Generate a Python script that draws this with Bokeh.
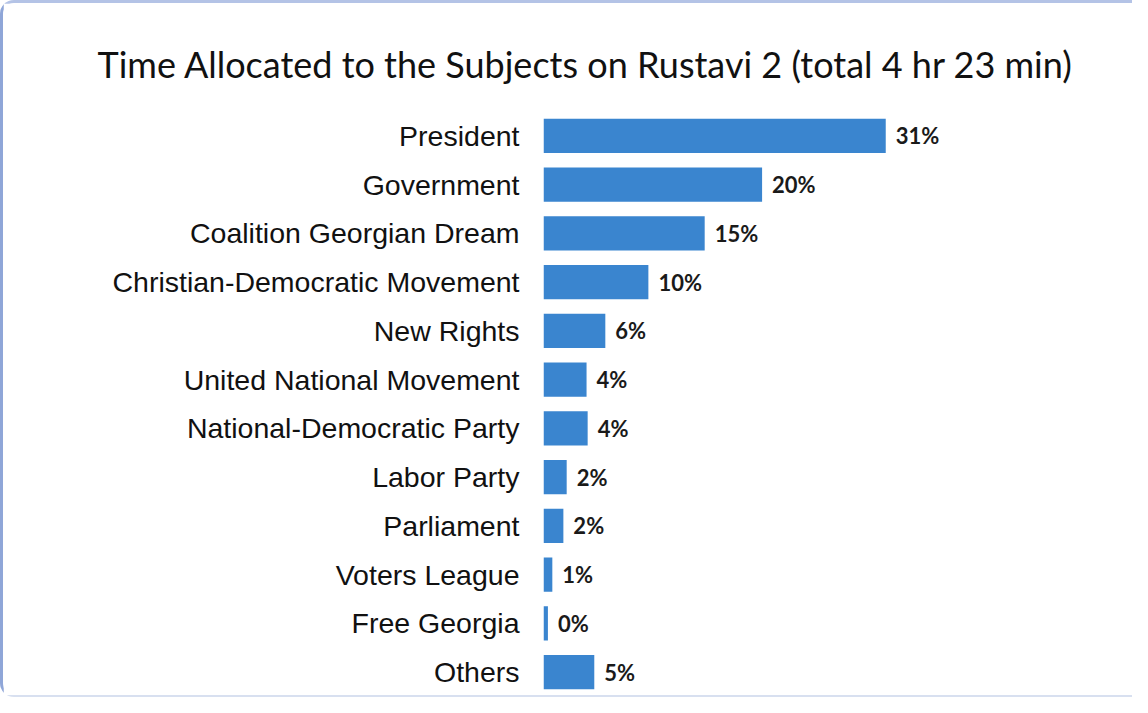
from bokeh.plotting import figure
from bokeh.models import ColumnDataSource, FactorRange
from bokeh.embed import file_html
from bokeh.resources import INLINE
from bokeh.core.properties import value

categories = ["President", "Government", "Coalition Georgian Dream",
              "Christian-Democratic Movement", "New Rights", "United National Movement",
              "National-Democratic Party", "Labor Party", "Parliament",
              "Voters League", "Free Georgia", "Others"]
shares = [31.0, 19.8, 14.6, 9.5, 5.6, 3.9, 4.0, 2.1, 1.8, 0.8, 0.4, 4.6]
labels = ["31%", "20%", "15%", "10%", "6%", "4%", "4%", "2%", "2%", "1%", "0%", "5%"]

source = ColumnDataSource(dict(cat=categories, val=shares, lab=labels))

p = figure(
    width=1132, height=697,
    y_range=FactorRange(factors=list(reversed(categories)), range_padding=0),
    x_range=(0, 50),
    output_backend="svg", toolbar_location=None,
    min_border_left=540, min_border_right=40, min_border_top=108, min_border_bottom=4,
    title="Time Allocated to the Subjects on Rustavi 2 (total 4 hr 23 min)",
)
p.styles = {"border-left": "3px solid #8fa6d8", "border-top": "3px solid #b4c3e6",
            "border-bottom": "2px solid #d8e0f0", "border-radius": "14px 0 0 14px",
            "box-sizing": "border-box"}

p.hbar(y="cat", right="val", left=0, height=0.7, source=source,
       fill_color="#3a85cf", line_color=None)
p.text(x="val", y="cat", text="lab", source=source, x_offset=10,
       text_baseline="middle", text_align="left",
       text_font=value("Lato"), text_font_style="bold", text_font_size="22px",
       text_color="#1a1a1a")

p.title.text_font = "Lato"
p.title.text_font_size = "36px"
p.title.text_font_style = "normal"
p.title.text_color = "#111111"
p.title.align = "left"
p.title.offset = -446
p.title.standoff = 51

p.xaxis.visible = False
p.yaxis.axis_line_color = None
p.yaxis.major_tick_line_color = None
p.yaxis.minor_tick_line_color = None
p.yaxis.major_label_standoff = 18
p.yaxis.major_label_text_font = "Liberation Sans"
p.yaxis.major_label_text_font_size = "28.5px"
p.yaxis.major_label_text_color = "#111111"

p.xgrid.grid_line_color = None
p.ygrid.grid_line_color = None
p.outline_line_color = None
p.background_fill_color = "white"
p.border_fill_color = "white"

open("out.html", "w").write(file_html(p, INLINE))
